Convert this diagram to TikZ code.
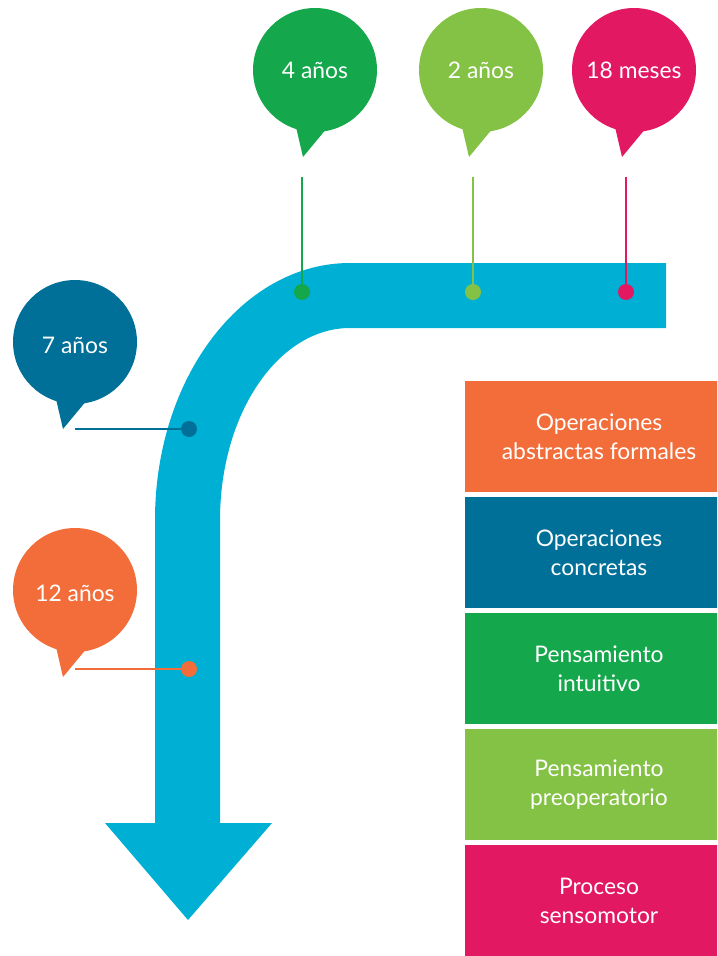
\documentclass[tikz,border=0pt]{standalone}
\usepackage{fontspec}
\setmainfont{Lato}
\definecolor{bandcyan}{HTML}{00B0D4}
\definecolor{stageorange}{HTML}{F26D3A}
\definecolor{stageblue}{HTML}{007099}
\definecolor{stagegreen}{HTML}{14A74B}
\definecolor{stagelime}{HTML}{84C245}
\definecolor{stagepink}{HTML}{E21862}
\newcommand{\bubbletail}[2]{\fill[#2] ([shift = {(-19,57)}]#1.center) -- ([shift = {(-12,87)}]#1.center) -- ([shift = {(12,58)}]#1.center) -- cycle;}

\begin{document}
\begin{tikzpicture}[
  bubble/.style = {circle, fill = #1, text = white, inner sep = 0pt, minimum size = 2.48cm, font = \fontsize{13}{15}\selectfont},
  lowbubble/.style = {bubble = #1, text height = 0.5cm, text depth = 0.04cm},
  stagebox/.style = {rectangle, fill = #1, text = white, inner sep = 0pt, align = center, minimum width = 5.36cm, minimum height = 2.22cm, font = \fontsize{13}{16.5}\selectfont},
  dot/.style = {circle, fill = #1, inner sep = 0pt, minimum size = 0.32cm},
  link/.style = {draw = #1, line width = 0.9pt},
  x = 0.02cm,
  y = -0.02cm
]
  \useasboundingbox (0,0) rectangle (717,956);
  \clip (0,0) rectangle (717,956);

  \fill[bandcyan] (155,823) -- (155,520) .. controls (155,378) and (242,263) .. (350,263) -- (666,263) -- (666,328) -- (350,328) .. controls (278,328) and (220,414) .. (220,520) -- (220,823) -- (272,823) -- (188,920) -- (105,823) -- cycle;

  \node[bubble = stagegreen]     (b4)  at (315,70)  {4 años};
  \node[bubble = stagelime]      (b2)  at (481,70)  {2 años};
  \node[bubble = stagepink]      (b18) at (634,70)  {18 meses};
  \node[lowbubble = stageblue]   (b7)  at (75,342)  {7 años};
  \node[lowbubble = stageorange] (b12) at (75,590)  {12 años};
  \bubbletail{b4}{stagegreen}
  \bubbletail{b2}{stagelime}
  \bubbletail{b18}{stagepink}
  \bubbletail{b7}{stageblue}
  \bubbletail{b12}{stageorange}

  \coordinate (t4)  at (302,177);
  \coordinate (t2)  at (473,177);
  \coordinate (t18) at (626,177);
  \coordinate (t7)  at (75,429);
  \coordinate (t12) at (75,669);
  \node[dot = stagegreen]  (d4)  at (302,292) {};
  \node[dot = stagelime]   (d2)  at (473,292) {};
  \node[dot = stagepink]   (d18) at (626,292) {};
  \node[dot = stageblue]   (d7)  at (189,429) {};
  \node[dot = stageorange] (d12) at (189,669) {};

  \draw[link = stagegreen]  (t4)  -- (d4);
  \draw[link = stagelime]   (t2)  -- (d2);
  \draw[link = stagepink]   (t18) -- (d18);
  \draw[link = stageblue]   (t7)  -- (d7);
  \draw[link = stageorange] (t12) -- (d12);

  \node[stagebox = stageorange] (oaf) at (599,436.5) {Operaciones\\abstractas formales};
  \node[stagebox = stageblue]   (oc)  at (599,552.5) {Operaciones\\concretas};
  \node[stagebox = stagegreen]  (pi)  at (599,668.5) {Pensamiento\\intuitivo};
  \node[stagebox = stagelime]   (pp)  at (599,784.5) {Pensamiento\\preoperatorio};
  \node[stagebox = stagepink]   (ps)  at (599,900.5) {Proceso\\sensomotor};
\end{tikzpicture}
\end{document}
